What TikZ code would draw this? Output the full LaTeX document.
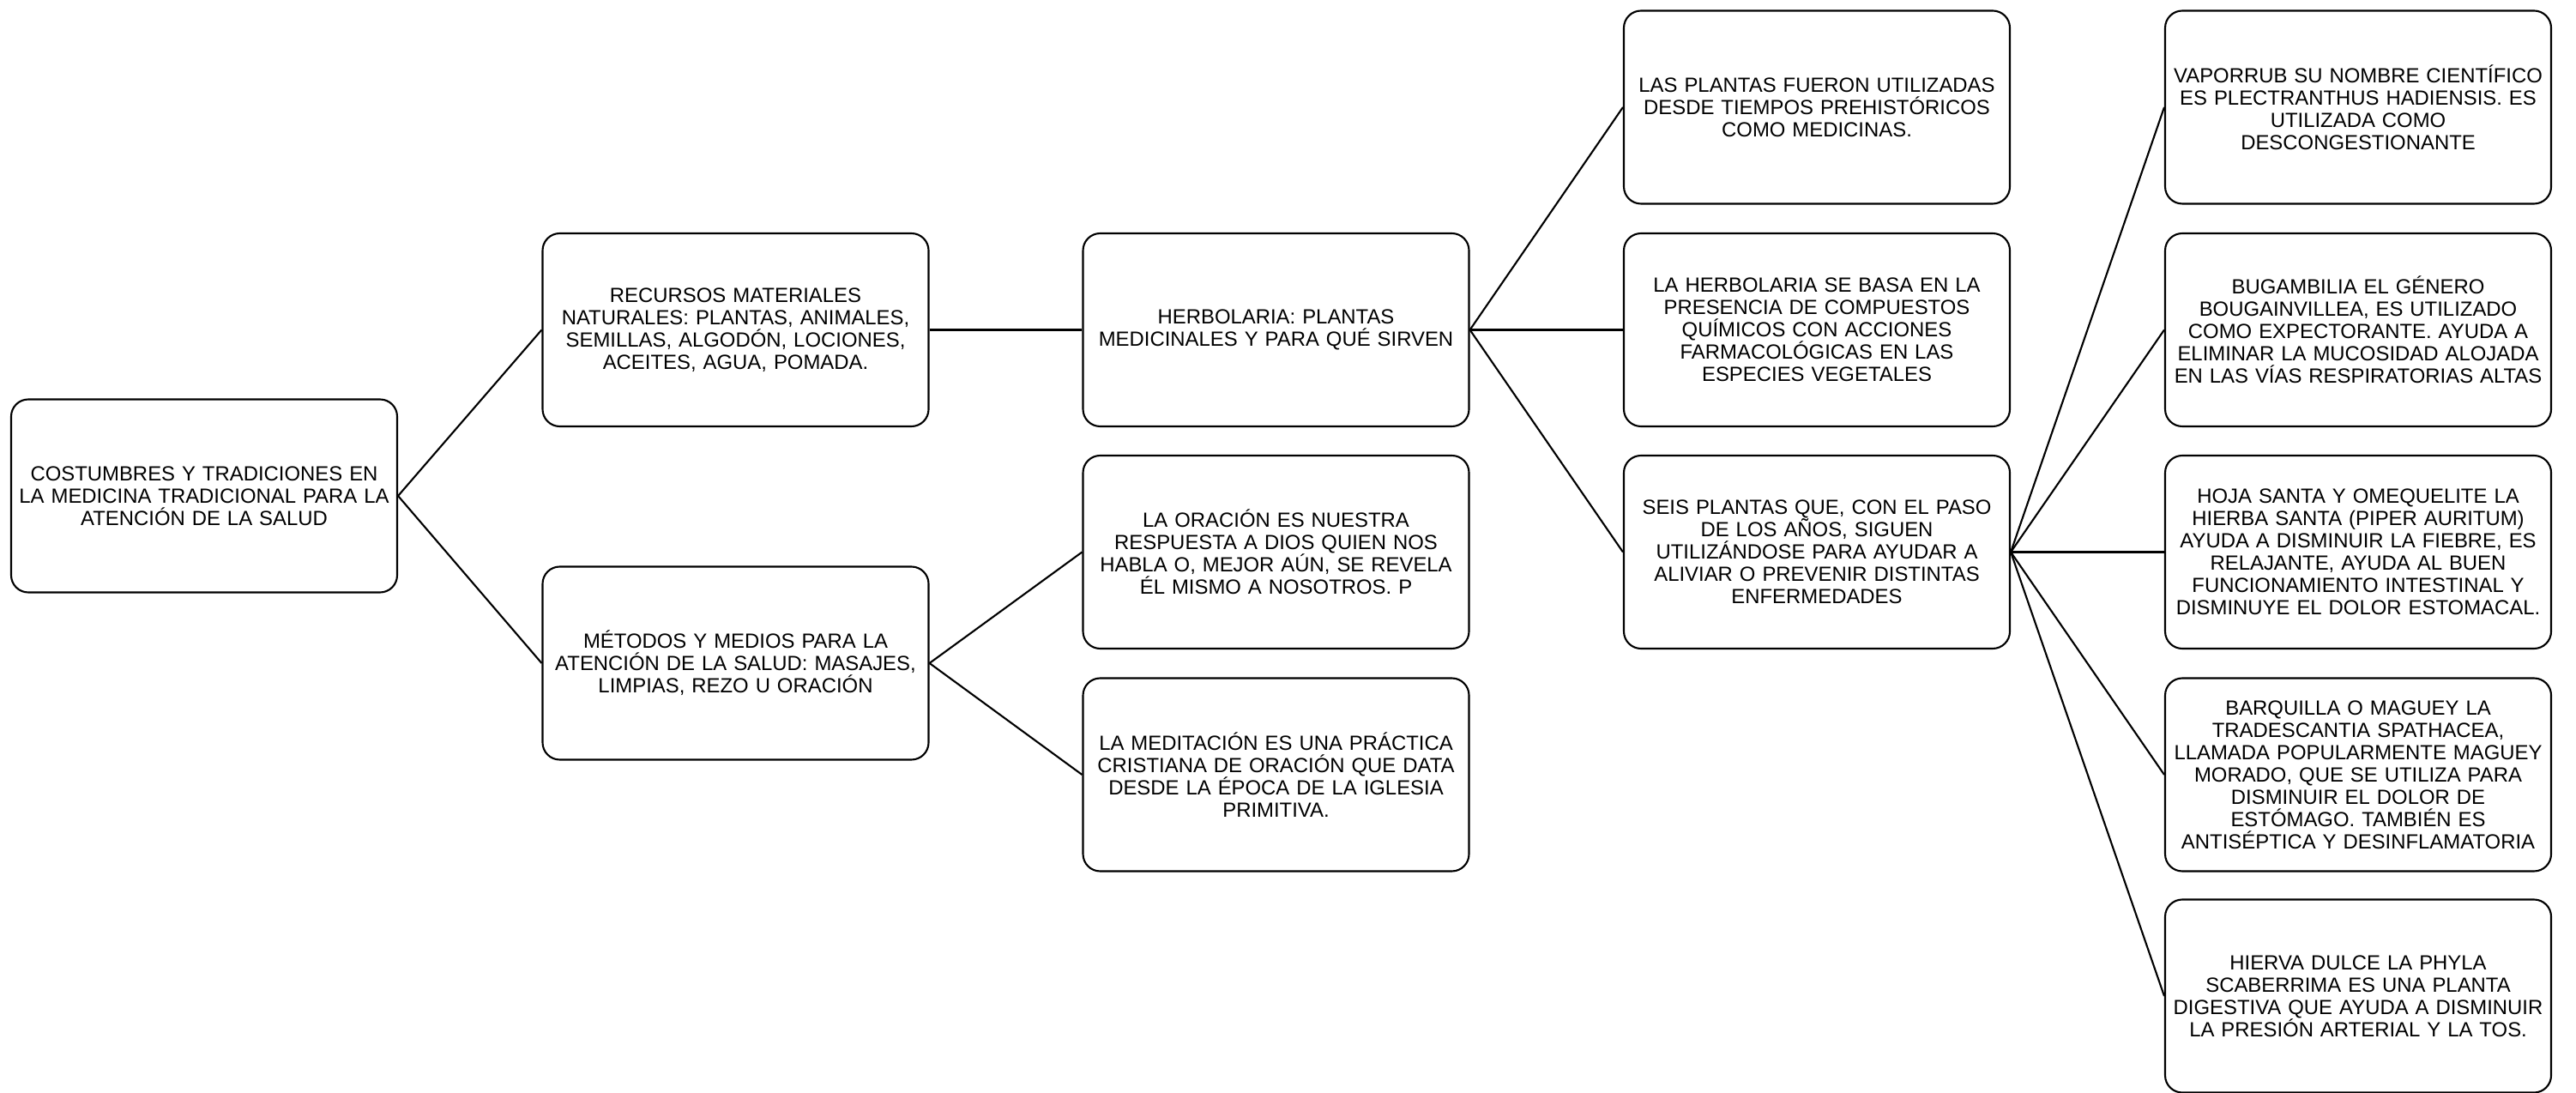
\documentclass[tikz,border=0pt]{standalone}
\usepackage{fontspec}
\setmainfont{Liberation Sans}
\tikzset{
  caja/.style={draw, line width=0.6pt, rounded corners=0.2cm, minimum width=4.5cm,
    minimum height=2.25cm, text width=4.5cm, align=center, inner sep=0pt,
    font=\fontsize{6.8}{7.4}\selectfont},
  enlace/.style={line width=0.6pt}
}

\begin{document}
\begin{tikzpicture}
   \useasboundingbox (0,0) rectangle (30.03,-12.74);

   % Columna 1 y 2
   \node[caja] (raiz) at (2.38,-5.78) {COSTUMBRES Y TRADICIONES EN\\ LA MEDICINA TRADICIONAL PARA LA\\ ATENCIÓN DE LA SALUD};
   \node[caja] (recursos) at (8.575,-3.845) {RECURSOS MATERIALES\\ NATURALES: PLANTAS, ANIMALES,\\ SEMILLAS, ALGODÓN, LOCIONES,\\ ACEITES, AGUA, POMADA.};
   \node[caja] (metodos) at (8.575,-7.73) {MÉTODOS Y MEDIOS PARA LA\\ ATENCIÓN DE LA SALUD: MASAJES,\\ LIMPIAS, REZO U ORACIÓN};

   % Columna 3
   \node[caja] (herbolaria) at (14.875,-3.845) {HERBOLARIA: PLANTAS\\ MEDICINALES Y PARA QUÉ SIRVEN};
   \node[caja] (oracion) at (14.875,-6.435) {LA ORACIÓN ES NUESTRA\\ RESPUESTA A DIOS QUIEN NOS\\ HABLA O, MEJOR AÚN, SE REVELA\\ ÉL MISMO A NOSOTROS. P};
   \node[caja] (meditacion) at (14.875,-9.03) {LA MEDITACIÓN ES UNA PRÁCTICA\\ CRISTIANA DE ORACIÓN QUE DATA\\ DESDE LA ÉPOCA DE LA IGLESIA\\ PRIMITIVA.};

   % Columna 4
   \node[caja] (prehistoria) at (21.18,-1.25) {LAS PLANTAS FUERON UTILIZADAS\\ DESDE TIEMPOS PREHISTÓRICOS\\ COMO MEDICINAS.};
   \node[caja] (compuestos) at (21.18,-3.845) {LA HERBOLARIA SE BASA EN LA\\ PRESENCIA DE COMPUESTOS\\ QUÍMICOS CON ACCIONES\\ FARMACOLÓGICAS EN LAS\\ ESPECIES VEGETALES};
   \node[caja] (seis) at (21.18,-6.435) {SEIS PLANTAS QUE, CON EL PASO\\ DE LOS AÑOS, SIGUEN\\ UTILIZÁNDOSE PARA AYUDAR A\\ ALIVIAR O PREVENIR DISTINTAS\\ ENFERMEDADES};

   % Columna 5
   \node[caja] (vaporrub) at (27.49,-1.25) {VAPORRUB SU NOMBRE CIENTÍFICO\\ ES PLECTRANTHUS HADIENSIS. ES\\ UTILIZADA COMO\\ DESCONGESTIONANTE};
   \node[caja] (bugambilia) at (27.49,-3.845) {BUGAMBILIA EL GÉNERO\\ BOUGAINVILLEA, ES UTILIZADO\\ COMO EXPECTORANTE. AYUDA A\\ ELIMINAR LA MUCOSIDAD ALOJADA\\ EN LAS VÍAS RESPIRATORIAS ALTAS};
   \node[caja] (hojasanta) at (27.49,-6.435) {HOJA SANTA Y OMEQUELITE LA\\ HIERBA SANTA (PIPER AURITUM)\\ AYUDA A DISMINUIR LA FIEBRE, ES\\ RELAJANTE, AYUDA AL BUEN\\ FUNCIONAMIENTO INTESTINAL Y\\ DISMINUYE EL DOLOR ESTOMACAL.};
   \node[caja] (barquilla) at (27.49,-9.03) {BARQUILLA O MAGUEY LA\\ TRADESCANTIA SPATHACEA,\\ LLAMADA POPULARMENTE MAGUEY\\ MORADO, QUE SE UTILIZA PARA\\ DISMINUIR EL DOLOR DE\\ ESTÓMAGO. TAMBIÉN ES\\ ANTISÉPTICA Y DESINFLAMATORIA};
   \node[caja] (hierva) at (27.49,-11.61) {HIERVA DULCE LA PHYLA\\ SCABERRIMA ES UNA PLANTA\\ DIGESTIVA QUE AYUDA A DISMINUIR\\ LA PRESIÓN ARTERIAL Y LA TOS.};

   % Enlaces
   \foreach \hijo in {recursos,metodos}
     \draw[enlace] (raiz.east) -- (\hijo.west);
   \draw[enlace] (recursos.east) -- (herbolaria.west);
   \foreach \hijo in {oracion,meditacion}
     \draw[enlace] (metodos.east) -- (\hijo.west);
   \foreach \hijo in {prehistoria,compuestos,seis}
     \draw[enlace] (herbolaria.east) -- (\hijo.west);
   \foreach \hijo in {vaporrub,bugambilia,hojasanta,barquilla,hierva}
     \draw[enlace] (seis.east) -- (\hijo.west);
\end{tikzpicture}
\end{document}
